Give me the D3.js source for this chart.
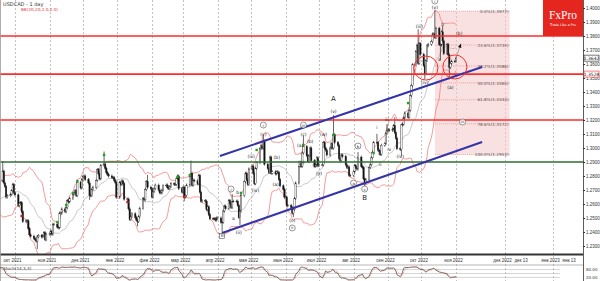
<!DOCTYPE html>
<html>
<head>
<meta charset="utf-8">
<title>USDCAD - 1 day</title>
<script src="https://d3js.org/d3.v7.min.js"></script>
<style>
  body { margin: 0; background: #fff; }
  svg { display: block; font-family: "DejaVu Sans", sans-serif; }
</style>
</head>
<body>
<div id="chart"></div>
<script>
// daily closes, one array per month (weekdays only)
const aug21 = [1.2480,1.2545,1.2550,1.2535,1.2540, 1.2550,1.2510,1.2495,1.2520,1.2520, 1.2560,1.2610,1.2700,1.2800,1.2820, 1.2630,1.2620,1.2615,1.2665,1.2610, 1.2615,1.2620];
const sep21 = [1.2615,1.2540,1.2530, 1.2545,1.2655,1.2680,1.2650,1.2685, 1.2655,1.2670,1.2660,1.2685,1.2765, 1.2835,1.2750,1.2725,1.2650,1.2660, 1.2670,1.2695,1.2740,1.2680];
const oct21 = [1.2665, 1.2590,1.2605,1.2610,1.2545,1.2475, 1.2480,1.2480,1.2425,1.2380,1.2370, 1.2355,1.2345,1.2335,1.2365,1.2375, 1.2365,1.2375,1.2395,1.2345,1.2385];
const nov21 = [1.2385,1.2405,1.2385,1.2455,1.2455, 1.2435,1.2430,1.2535,1.2535,1.2565, 1.2545,1.2575,1.2625,1.2615,1.2640, 1.2670,1.2680,1.2695,1.2660,1.2755, 1.2715,1.2775];
const dec21 = [1.2795,1.2800,1.2775, 1.2750,1.2660,1.2660,1.2705,1.2720, 1.2770,1.2845,1.2815,1.2780,1.2875, 1.2885,1.2855,1.2825,1.2810,1.2800, 1.2790,1.2790,1.2770,1.2755,1.2650];
const jan22 = [1.2755,1.2740,1.2765,1.2745,1.2635, 1.2635,1.2565,1.2490,1.2510,1.2530, 1.2505,1.2485,1.2475,1.2510,1.2570, 1.2640,1.2630,1.2705,1.2760,1.2720, 1.2710];
const feb22 = [1.2650,1.2690,1.2710,1.2735, 1.2700,1.2680,1.2680,1.2700,1.2730, 1.2735,1.2715,1.2710,1.2725,1.2745, 1.2740,1.2740,1.2780,1.2800,1.2710, 1.2685];
const mar22 = [1.2720,1.2650,1.2660,1.2735, 1.2800,1.2820,1.2735,1.2770,1.2765, 1.2745,1.2805,1.2685,1.2620,1.2625, 1.2620,1.2560,1.2580,1.2525,1.2495, 1.2495,1.2495,1.2485,1.2500];
const apr22 = [1.2500, 1.2470,1.2470,1.2550,1.2585,1.2570, 1.2625,1.2605,1.2575,1.2620,1.2620, 1.2620,1.2590,1.2505,1.2550,1.2660, 1.2760,1.2820,1.2775,1.2740,1.2850];
const may22 = [1.2870,1.2820,1.2745,1.2855,1.2895, 1.2995,1.3015,1.3000,1.3050,1.2885, 1.2855,1.2825,1.2935,1.2820,1.2830, 1.2815,1.2830,1.2825,1.2775,1.2730, 1.2705,1.2650];
const jun22 = [1.2650,1.2590,1.2590, 1.2575,1.2535,1.2560,1.2640,1.2750, 1.2870,1.2880,1.2870,1.2965,1.3010, 1.2945,1.2905,1.2945,1.3000,1.2910, 1.2870,1.2880,1.2930,1.2875];
const jul22 = [1.2880, 1.2880,1.3040,1.3000,1.2985,1.2950, 1.3000,1.3030,1.3000,1.3095,1.3040, 1.3020,1.2925,1.2910,1.2950,1.2940, 1.2880,1.2860,1.2865,1.2805,1.2805];
const aug22 = [1.2830,1.2875,1.2860,1.2850,1.2935, 1.2870,1.2860,1.2780,1.2750,1.2775, 1.2860,1.2880,1.2930,1.2970,1.3040, 1.3040,1.2985,1.2975,1.2955,1.3020, 1.3030,1.3105,1.3125];
const sep22 = [1.3130,1.3125, 1.3135,1.3160,1.3110,1.3070,1.2995, 1.2990,1.3165,1.3170,1.3215,1.3250, 1.3220,1.3270,1.3375,1.3445,1.3595, 1.3690,1.3735,1.3605,1.3745,1.3670];
const oct22 = [1.3590,1.3530,1.3625,1.3730,1.3740, 1.3760,1.3815,1.3815,1.3790,1.3855, 1.3740,1.3735,1.3830,1.3765,1.3675, 1.3740,1.3665,1.3575,1.3605,1.3620, 1.3620];
const nov22 = [1.3642];

const monthData = [[2021,7,aug21],[2021,8,sep21],[2021,9,oct21],[2021,10,nov21],[2021,11,dec21],
  [2022,0,jan22],[2022,1,feb22],[2022,2,mar22],[2022,3,apr22],[2022,4,may22],[2022,5,jun22],
  [2022,6,jul22],[2022,7,aug22],[2022,8,sep22],[2022,9,oct22],[2022,10,nov22]];

// swing extremes (wicks)
const swingHighs = [["2021-09-20",1.2896],["2021-12-20",1.2964],["2022-01-28",1.2796],["2022-03-08",1.2900],
  ["2022-04-14",1.2660],["2022-05-12",1.3077],["2022-06-17",1.3079],["2022-07-14",1.3224],["2022-08-05",1.2960],
  ["2022-08-22",1.3090],["2022-08-31",1.3160],["2022-09-07",1.3208],["2022-09-28",1.3838],["2022-10-13",1.3977],
  ["2022-10-20",1.3860]];
const swingLows = [["2021-10-21",1.2288],["2021-12-07",1.2640],["2022-01-19",1.2451],["2022-03-02",1.2630],
  ["2022-04-05",1.2403],["2022-04-21",1.2460],["2022-05-04",1.2765],["2022-06-08",1.2518],["2022-08-11",1.2728],
  ["2022-08-24",1.2960],["2022-09-13",1.2953],["2022-10-04",1.3502],["2022-10-18",1.3640],["2022-10-26",1.3502]];

// horizontal levels
const redLevels = [1.3800, 1.3528, 1.3200];
const greenLevels = [1.2900];

// channel (start, end)
const channelUpper = [["2022-04-03",1.2943],["2022-11-17",1.3579]];
const channelLower = [["2022-04-05",1.2393],["2022-11-17",1.3043]];

// fibonacci retracement
const fibHigh = 1.3977, fibLow = 1.2953;
const fibDates = ["2022-10-13","2022-12-04"];
const fibRatios = [0, 0.236, 0.382, 0.5, 0.618, 0.786, 1];

// wave labels: date, price, text, kind
const waveLabels = [
  ["2022-04-05",1.2372,"0","box"],
  ["2022-04-13",1.2707,"i","circ"],["2022-04-15",1.2500,"a","plain"],["2022-04-19",1.2679,"b","plain"],
  ["2022-04-20",1.2393,"(ii)","paren"],["2022-05-01",1.2936,"(iii)","paren"],["2022-05-05",1.2693,"(iv)","paren"],
  ["2022-05-12",1.3100,"(v)","paren"],["2022-05-12",1.3164,"i","circ"],
  ["2022-05-23",1.2736,"(a)","paren"],["2022-05-24",1.2929,"(b)","paren"],
  ["2022-06-07",1.2479,"(c)","paren"],["2022-06-07",1.2429,"ii","circ"],
  ["2022-06-14",1.3021,"(a)","paren"],["2022-06-17",1.3100,"(c)","paren"],["2022-06-17",1.3164,"iii","circ"],
  ["2022-06-23",1.3050,"(b)","paren"],["2022-06-15",1.2900,"(b)","paren"],["2022-06-28",1.2875,"(x)","paren"],
  ["2022-07-05",1.3100,"(w)","paren"],["2022-07-01",1.2820,"(y)","paren"],
  ["2022-07-14",1.3264,"(v)","paren"],["2022-07-14",1.3357,"A","big"],
  ["2022-08-01",1.2750,"a","circ"],["2022-08-05",1.3014,"b","circ"],["2022-08-11",1.2707,"c","circ"],["2022-08-11",1.2650,"B","big"],
  ["2022-08-22",1.3150,"i","plain"],["2022-08-25",1.2879,"ii","plain"],["2022-08-31",1.3207,"iii","plain"],["2022-09-02",1.2986,"iv","plain"],
  ["2022-09-12",1.2936,"(iv)","paren"],["2022-09-29",1.3865,"(iii)","paren"],["2022-10-04",1.3471,"(iv)","paren"],
  ["2022-10-13",1.4005,"(v)","paren"],["2022-10-13",1.4050,"i","circ"],
  ["2022-10-17",1.3629,"a","plain"],["2022-10-20",1.3879,"b","plain"],["2022-10-27",1.3429,"(a)","paren"],
  ["2022-11-03",1.3821,"(b)","paren"],["2022-11-05",1.3186,"iii","circ"]
];

const ringMarks = [["2022-10-05",1.3571],["2022-10-31",1.3579]];
const arrowPath = [["2022-11-01",1.3642],["2022-11-04",1.3745]];
const upSignals = [["2021-11-08",1.2471],["2021-11-16",1.2593],["2021-11-22",1.2679],["2021-11-26",1.2764],["2021-12-20",1.2950],
  ["2022-02-24",1.2793],["2022-03-07",1.2807],["2022-04-22",1.2679],["2022-05-06",1.2986],["2022-06-17",1.3021],
  ["2022-07-14",1.3093],["2022-08-19",1.2964],["2022-09-19",1.3321]];
const downSignals = [["2021-10-07",1.2514],["2022-01-10",1.2614],["2022-03-02",1.2650]];

const monthNames = ["янв","фев","мар","апр","мая","июн","июл","авг","сен","окт","ноя","дек"];
const extraTicks = [["2022-12-13","дек 13"],["2023-01-13","янв 13"]];
const priceTicks = d3.range(123, 141).map(v => v / 100);

// layout
const W = 600, H = 281, plotR = 583, mainB = 254, subT = 265;
const parse = d3.timeParse("%Y-%m-%d");

const svg = d3.select("#chart").append("svg").attr("width", W).attr("height", H);

const x = d3.scaleTime()
  .domain([new Date(2021,9,1), new Date(2022,10,1), new Date(2022,11,1), new Date(2023,0,1)])
  .range([15, 456, 505, 553]);
const y = d3.scaleLinear().domain([1.2, 1.4]).range([288, 8]);
const yo = d3.scaleLinear().domain([0, 100]).range([280, 267]);

// build bars
const bars = [];
monthData.forEach(function(m) {
  const day = new Date(m[0], m[1], 1);
  let i = 0;
  while (day.getMonth() === m[1]) {
    const wd = day.getDay();
    if (wd !== 0 && wd !== 6 && i < m[2].length) {
      bars.push({date: new Date(day), close: m[2][i]});
      i++;
    }
    day.setDate(day.getDate() + 1);
  }
});
const key = d3.timeFormat("%Y-%m-%d");
const hiMap = new Map(swingHighs), loMap = new Map(swingLows);
bars.forEach(function(b, i) {
  b.open = i ? bars[i-1].close : b.close;
  b.high = Math.max(b.open, b.close, hiMap.get(key(b.date)) || 0);
  b.low = Math.min(b.open, b.close, loMap.get(key(b.date)) || 9);
});

// bollinger 20,2
bars.forEach(function(b, i) {
  if (i < 19) return;
  const w = bars.slice(i-19, i+1).map(d => d.close);
  const m = d3.mean(w);
  const sd = Math.sqrt(d3.mean(w, v => (v-m)*(v-m)));
  b.mid = m; b.up = m + 2*sd; b.dn = m - 2*sd;
});
// stochastic 14,3,3
bars.forEach(function(b, i) {
  if (i < 13) return;
  const w = bars.slice(i-13, i+1);
  const hh = d3.max(w, d => d.high), ll = d3.min(w, d => d.low);
  b.raw = hh > ll ? 100*(b.close-ll)/(hh-ll) : 50;
});
bars.forEach(function(b, i) {
  if (i < 15) return;
  b.k = d3.mean(bars.slice(i-2, i+1), d => d.raw);
});
bars.forEach(function(b, i) {
  if (i < 17) return;
  b.d = d3.mean(bars.slice(i-2, i+1), d => d.k);
});

svg.append("defs").append("clipPath").attr("id", "clipMain")
  .append("rect").attr("x", 0).attr("y", 0).attr("width", plotR).attr("height", mainB);
svg.select("defs").append("clipPath").attr("id", "clipSub")
  .append("rect").attr("x", 0).attr("y", subT).attr("width", plotR).attr("height", H - subT);

// grid
const monthTicks = d3.timeMonth.range(new Date(2021,9,1), new Date(2023,0,2));
svg.append("g").selectAll("line").data(monthTicks).join("line")
  .attr("x1", d => Math.round(x(d)) + 0.5).attr("x2", d => Math.round(x(d)) + 0.5)
  .attr("y1", 0).attr("y2", H)
  .attr("stroke", "#b4b4b4").attr("stroke-width", 0.8).attr("stroke-dasharray", "2,2");

const main = svg.append("g").attr("clip-path", "url(#clipMain)");

// fib zone
const fx0 = x(parse(fibDates[0])), fx1 = x(parse(fibDates[1]));
main.append("rect").attr("x", fx0).attr("y", y(fibHigh)).attr("width", fx1 - fx0)
  .attr("height", y(fibLow) - y(fibHigh)).attr("fill", "#f6c9c9").attr("fill-opacity", 0.55);
const fib = main.append("g").selectAll("g").data(fibRatios).join("g")
  .attr("transform", d => "translate(0," + y(fibHigh - d*(fibHigh-fibLow)) + ")");
fib.append("line").attr("x1", fx0).attr("x2", fx1)
  .attr("stroke", "#e07070").attr("stroke-width", 0.6).attr("stroke-dasharray", "1,1");
fib.append("text").attr("x", fx1 - 1).attr("y", 1.6).attr("text-anchor", "end")
  .attr("font-size", 4.2).attr("fill", "#555")
  .text(d => (d*100).toFixed(1) + "%(" + (fibHigh - d*(fibHigh-fibLow)).toFixed(4) + ")");

// bollinger bands
const bb = bars.filter(b => b.mid !== undefined);
["up","dn"].forEach(function(k) {
  main.append("path").datum(bb)
    .attr("d", d3.line().x(d => x(d.date)).y(d => y(d[k])))
    .attr("fill", "none").attr("stroke", "#f08080").attr("stroke-width", 0.8);
});
main.append("path").datum(bb)
  .attr("d", d3.line().x(d => x(d.date)).y(d => y(d.mid)))
  .attr("fill", "none").attr("stroke", "#b0b0b0").attr("stroke-width", 0.7);

// candles
const cg = main.append("g").selectAll("g").data(bars).join("g");
cg.append("line")
  .attr("x1", d => x(d.date)).attr("x2", d => x(d.date))
  .attr("y1", d => y(d.high) - 1.5).attr("y2", d => y(d.low) + 1.5)
  .attr("stroke", "#222").attr("stroke-width", 0.7);
cg.append("rect")
  .attr("x", d => x(d.date) - 0.7).attr("width", 1.4)
  .attr("y", d => y(Math.max(d.open, d.close)))
  .attr("height", d => Math.max(0.6, Math.abs(y(d.open) - y(d.close))))
  .attr("fill", d => d.close >= d.open ? "#fff" : "#111")
  .attr("stroke", "#222").attr("stroke-width", 0.4);

// signal marks
main.append("g").selectAll("rect").data(upSignals).join("rect")
  .attr("x", d => x(parse(d[0])) - 1.2).attr("y", d => y(d[1]) - 1.2)
  .attr("width", 2.4).attr("height", 2.4).attr("fill", "#22a022");
main.append("g").selectAll("rect").data(downSignals).join("rect")
  .attr("x", d => x(parse(d[0])) - 1.2).attr("y", d => y(d[1]) - 1.2)
  .attr("width", 2.4).attr("height", 2.4).attr("fill", "#c02020");

// horizontal levels
main.append("g").selectAll("line").data(redLevels).join("line")
  .attr("x1", 0).attr("x2", plotR).attr("y1", d => y(d)).attr("y2", d => y(d))
  .attr("stroke", "#ff2a2a").attr("stroke-width", 1.6);
main.append("g").selectAll("line").data(greenLevels).join("line")
  .attr("x1", 0).attr("x2", plotR).attr("y1", d => y(d)).attr("y2", d => y(d))
  .attr("stroke", "#2f6e2f").attr("stroke-width", 1.4);

// channel
[channelUpper, channelLower].forEach(function(c) {
  main.append("line")
    .attr("x1", x(parse(c[0][0]))).attr("y1", y(c[0][1]))
    .attr("x2", x(parse(c[1][0]))).attr("y2", y(c[1][1]))
    .attr("stroke", "#3434a8").attr("stroke-width", 2);
});

// red rings
main.append("g").selectAll("circle").data(ringMarks).join("circle")
  .attr("cx", d => x(parse(d[0]))).attr("cy", d => y(d[1])).attr("r", 12)
  .attr("fill", "none").attr("stroke", "#ff2a2a").attr("stroke-width", 1);

// forecast arrow
const a0 = [x(parse(arrowPath[0][0])), y(arrowPath[0][1])];
const a1 = [x(parse(arrowPath[1][0])), y(arrowPath[1][1])];
main.append("line").attr("x1", a0[0]).attr("y1", a0[1]).attr("x2", a1[0]).attr("y2", a1[1])
  .attr("stroke", "#777").attr("stroke-width", 0.6);
const ang = Math.atan2(a1[1] - a0[1], a1[0] - a0[0]);
main.append("path")
  .attr("d", "M0,0L-4,-1.8L-4,1.8Z")
  .attr("transform", "translate(" + a1[0] + "," + a1[1] + ") rotate(" + (ang*180/Math.PI) + ")")
  .attr("fill", "#111");

// wave labels
const wl = main.append("g").selectAll("g").data(waveLabels).join("g")
  .attr("transform", d => "translate(" + x(parse(d[0])) + "," + y(d[1]) + ")");
wl.filter(d => d[3] === "circ").append("circle").attr("r", 3)
  .attr("fill", "#fff").attr("stroke", "#333").attr("stroke-width", 0.5);
wl.filter(d => d[3] === "box").append("rect").attr("x", -2.5).attr("y", -2.5)
  .attr("width", 5).attr("height", 5).attr("fill", "#fff").attr("stroke", "#333").attr("stroke-width", 0.5);
wl.append("text").attr("text-anchor", "middle")
  .attr("y", d => d[3] === "big" ? 2.5 : 1.5)
  .attr("font-size", d => d[3] === "big" ? 7 : (d[3] === "circ" ? 3.8 : 4.5))
  .attr("fill", "#222")
  .text(d => d[2]);

// frame and axes
svg.append("line").attr("x1", plotR + 0.5).attr("x2", plotR + 0.5).attr("y1", 0).attr("y2", H)
  .attr("stroke", "#333").attr("stroke-width", 0.8);
svg.append("line").attr("x1", 0).attr("x2", plotR).attr("y1", mainB + 0.5).attr("y2", mainB + 0.5)
  .attr("stroke", "#333").attr("stroke-width", 1.8);
svg.append("line").attr("x1", 0).attr("x2", plotR).attr("y1", subT).attr("y2", subT)
  .attr("stroke", "#888").attr("stroke-width", 0.6);
svg.append("line").attr("x1", 0.5).attr("x2", 0.5).attr("y1", 0).attr("y2", H)
  .attr("stroke", "#999").attr("stroke-width", 0.8);

const yAxis = svg.append("g").attr("transform", "translate(" + plotR + ",0)")
  .call(d3.axisRight(y).tickValues(priceTicks).tickFormat(d3.format(".4f")).tickSize(2).tickPadding(1));
yAxis.select(".domain").remove();
yAxis.selectAll("text").attr("font-size", 4.5).attr("fill", "#333");
yAxis.selectAll("line").attr("stroke", "#333");

// price tags
[[nov22[nov22.length-1], "#222"], [redLevels[1], "#ff2a2a"]].forEach(function(t) {
  const g = svg.append("g").attr("transform", "translate(" + (plotR + 1) + "," + y(t[0]) + ")");
  g.append("rect").attr("x", 0).attr("y", -3).attr("width", 15).attr("height", 6)
    .attr("fill", "#fff").attr("stroke", t[1]).attr("stroke-width", 0.6);
  g.append("text").attr("x", 7.5).attr("y", 1.6).attr("text-anchor", "middle")
    .attr("font-size", 4.5).attr("fill", "#222").text(t[0].toFixed(4));
});

// time labels
const tickData = monthTicks.map(d => [d, monthNames[d.getMonth()] + " " + d.getFullYear()])
  .concat(extraTicks.map(t => [parse(t[0]), t[1]]));
const xAxis = svg.append("g").attr("transform", "translate(0," + mainB + ")")
  .call(d3.axisBottom(x).tickValues(tickData.map(d => d[0]))
    .tickFormat((d, i) => tickData[i][1]).tickSize(0).tickPadding(5));
xAxis.select(".domain").remove();
xAxis.selectAll("text").attr("font-size", 4.5).attr("fill", "#333").attr("dx", -3);

// oscillator panel
const sub = svg.append("g").attr("clip-path", "url(#clipSub)");
sub.append("g").selectAll("line").data([20, 50, 80]).join("line")
  .attr("x1", 0).attr("x2", 560).attr("y1", d => yo(d)).attr("y2", d => yo(d))
  .attr("stroke", "#aaa").attr("stroke-width", 0.5);
const stv = bars.filter(b => b.d !== undefined && x(b.date) > -5);
sub.append("path").datum(stv)
  .attr("d", d3.line().x(d => x(d.date)).y(d => yo(d.k)))
  .attr("fill", "none").attr("stroke", "#5a4a44").attr("stroke-width", 0.8);
sub.append("path").datum(stv)
  .attr("d", d3.line().x(d => x(d.date)).y(d => yo(d.d)))
  .attr("fill", "none").attr("stroke", "#e05050").attr("stroke-width", 0.5).attr("stroke-dasharray", "1,1");
svg.append("text").attr("x", 3).attr("y", subT + 5).attr("font-size", 4.2).attr("fill", "#333")
  .text("Stoch(14,3,3)");
[80, 20].forEach(function(v) {
  svg.append("text").attr("x", plotR + 3).attr("y", yo(v) + 1.6).attr("font-size", 4).attr("fill", "#333")
    .text(v.toFixed(2));
});

// titles
svg.append("text").attr("x", 3).attr("y", 6).attr("font-size", 5).attr("fill", "#333").text("USDCAD - 1 day");
svg.append("text").attr("x", 21).attr("y", 11).attr("font-size", 4.2).attr("fill", "#e03030").text("BB(20,20,2.0,2.0)");

// logo
svg.append("rect").attr("x", 543).attr("y", 0).attr("width", plotR - 543).attr("height", y(1.38))
  .attr("fill", "#e5261f");
svg.append("text").attr("x", 563).attr("y", 19).attr("text-anchor", "middle")
  .attr("font-family", "Liberation Serif, serif").attr("font-size", 11.5).attr("fill", "#fff").text("FxPro");
svg.append("text").attr("x", 563).attr("y", 25.5).attr("text-anchor", "middle")
  .attr("font-size", 3.3).attr("fill", "#fff").text("Trade Like a Pro");
</script>
</body>
</html>
